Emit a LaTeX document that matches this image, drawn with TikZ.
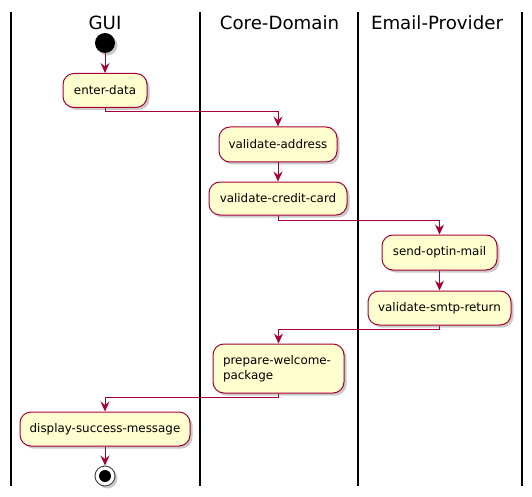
\documentclass[tikz,border=0pt]{standalone}
\usepackage{fontspec}
\setmainfont{DejaVu Sans}
\usetikzlibrary{arrows.meta,shadows,positioning}
\definecolor{pbord}{HTML}{A80036}
\definecolor{pfill}{HTML}{FEFECE}
\tikzset{
  px/.style={x=1pt,y=-1pt},
  act/.style={draw=pbord, fill=pfill, line width=1pt, rounded corners=11pt,
    font=\fontsize{11.9}{15}\selectfont, inner sep=0pt, align=center,
    drop shadow={shadow xshift=2.5pt, shadow yshift=-2.5pt, opacity=0.35, fill=black!60}},
  flow/.style={draw=pbord, line width=1pt, -{Stealth[length=10pt,width=9pt,inset=3.5pt]}},
  lane/.style={draw=black, line width=1.8pt},
  title/.style={font=\fontsize{18.2}{21}\selectfont, anchor=base},
}
\begin{document}
\begin{tikzpicture}[px]
\useasboundingbox (0,0) rectangle (532,497);
% lanes
\coordinate (l0t) at (11,12); \coordinate (l0b) at (11,486);
\coordinate (l1t) at (200,12); \coordinate (l1b) at (200,486);
\coordinate (l2t) at (358,12); \coordinate (l2b) at (358,486);
\coordinate (l3t) at (522,12); \coordinate (l3b) at (522,486);
\draw[lane] (l0t) -- (l0b);
\draw[lane] (l1t) -- (l1b);
\draw[lane] (l2t) -- (l2b);
\draw[lane] (l3t) -- (l3b);
\node[title] (tgui) at (105,30) {GUI};
\node[title] (tcore) at (279.5,30) {Core-Domain};
\node[title] (temail) at (437,30) {Email-Provider};
% start
\node[circle, fill=black, minimum size=20pt, inner sep=0pt,
  drop shadow={shadow xshift=2.5pt, shadow yshift=-2.5pt, opacity=0.35, fill=black!60}] (start) at (105,43) {};
% activities
\node[act, minimum width=84pt, minimum height=34pt] (ed) at (105,90.5) {enter-data};
\node[act, minimum width=118pt, minimum height=35pt] (va) at (278,144.5) {validate-address};
\node[act, minimum width=138pt, minimum height=33pt] (vc) at (278,198.5) {validate-credit-card};
\node[act, minimum width=115pt, minimum height=35pt] (so) at (439.5,252.5) {send-optin-mail};
\node[act, minimum width=143pt, minimum height=34pt] (vs) at (439.5,308) {validate-smtp-return};
\node[act, minimum width=131pt, minimum height=49pt, align=left, text width=111pt] (pw) at (278.5,368.5) {prepare-welcome-\\package};
\node[act, minimum width=170pt, minimum height=34pt] (ds) at (105,429) {display-success-message};
% end
\node[circle, draw=black!70, line width=1pt, fill=white, minimum size=20pt, inner sep=0pt,
  drop shadow={shadow xshift=2.5pt, shadow yshift=-2.5pt, opacity=0.35, fill=black!60}] (stop) at (105,476) {};
\node[circle, fill=black, minimum size=12pt, inner sep=0pt] (stopin) at (stop.center) {};
% flows
\draw[flow] (start) -- (ed);
\draw[flow] (ed.south) -- ++(0,4) -| (va.north);
\draw[flow] (va) -- (vc);
\draw[flow] (vc.south) -- ++(0,5) -| (so.north);
\draw[flow] (so) -- (vs);
\draw[flow] (vs.south) -- ++(0,4) -| (pw.north);
\draw[flow] (pw.south) -- ++(0,4) -| (ds.north);
\draw[flow] (ds) -- (stop);
\end{tikzpicture}
\end{document}
